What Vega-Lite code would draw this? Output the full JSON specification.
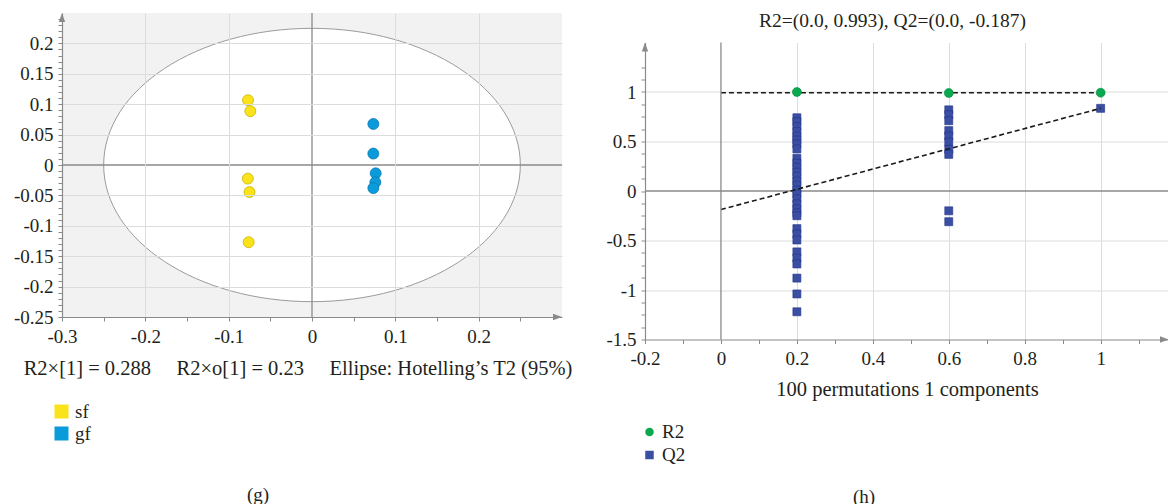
{
  "$schema": "https://vega.github.io/schema/vega-lite/v6.json",
  "background": "white",
  "padding": {"left": 13, "top": 10, "right": 0, "bottom": 0},
  "spacing": 32,
  "center": true,
  "resolve": {
    "scale": {"color": "independent", "shape": "independent", "stroke": "independent"},
    "legend": {"color": "independent", "shape": "independent", "stroke": "independent"}
  },
  "datasets": {
    "scores": [
      {"group": "sf", "t1": -0.0768, "to1": 0.1066},
      {"group": "sf", "t1": -0.0740, "to1": 0.0885},
      {"group": "sf", "t1": -0.0770, "to1": -0.0224},
      {"group": "sf", "t1": -0.0750, "to1": -0.0445},
      {"group": "sf", "t1": -0.0760, "to1": -0.1270},
      {"group": "gf", "t1": 0.0736, "to1": 0.0675},
      {"group": "gf", "t1": 0.0736, "to1": 0.0188},
      {"group": "gf", "t1": 0.0764, "to1": -0.0137},
      {"group": "gf", "t1": 0.0760, "to1": -0.0285},
      {"group": "gf", "t1": 0.0736, "to1": -0.0380}
    ],
    "ellipse": [{"t1": 0, "to1": 0}],
    "single": [{}],
    "perm": [
      {"stat": "Q2", "corr": 0.2, "value": 0.74},
      {"stat": "Q2", "corr": 0.2, "value": 0.70},
      {"stat": "Q2", "corr": 0.2, "value": 0.65},
      {"stat": "Q2", "corr": 0.2, "value": 0.60},
      {"stat": "Q2", "corr": 0.2, "value": 0.555},
      {"stat": "Q2", "corr": 0.2, "value": 0.515},
      {"stat": "Q2", "corr": 0.2, "value": 0.475},
      {"stat": "Q2", "corr": 0.2, "value": 0.425},
      {"stat": "Q2", "corr": 0.2, "value": 0.33},
      {"stat": "Q2", "corr": 0.2, "value": 0.28},
      {"stat": "Q2", "corr": 0.2, "value": 0.24},
      {"stat": "Q2", "corr": 0.2, "value": 0.19},
      {"stat": "Q2", "corr": 0.2, "value": 0.15},
      {"stat": "Q2", "corr": 0.2, "value": 0.10},
      {"stat": "Q2", "corr": 0.2, "value": 0.06},
      {"stat": "Q2", "corr": 0.2, "value": 0.01},
      {"stat": "Q2", "corr": 0.2, "value": -0.03},
      {"stat": "Q2", "corr": 0.2, "value": -0.08},
      {"stat": "Q2", "corr": 0.2, "value": -0.13},
      {"stat": "Q2", "corr": 0.2, "value": -0.18},
      {"stat": "Q2", "corr": 0.2, "value": -0.22},
      {"stat": "Q2", "corr": 0.2, "value": -0.25},
      {"stat": "Q2", "corr": 0.2, "value": -0.38},
      {"stat": "Q2", "corr": 0.2, "value": -0.435},
      {"stat": "Q2", "corr": 0.2, "value": -0.495},
      {"stat": "Q2", "corr": 0.2, "value": -0.615},
      {"stat": "Q2", "corr": 0.2, "value": -0.677},
      {"stat": "Q2", "corr": 0.2, "value": -0.737},
      {"stat": "Q2", "corr": 0.2, "value": -0.88},
      {"stat": "Q2", "corr": 0.2, "value": -1.04},
      {"stat": "Q2", "corr": 0.2, "value": -1.22},
      {"stat": "Q2", "corr": 0.6, "value": 0.82},
      {"stat": "Q2", "corr": 0.6, "value": 0.77},
      {"stat": "Q2", "corr": 0.6, "value": 0.71},
      {"stat": "Q2", "corr": 0.6, "value": 0.61},
      {"stat": "Q2", "corr": 0.6, "value": 0.555},
      {"stat": "Q2", "corr": 0.6, "value": 0.495},
      {"stat": "Q2", "corr": 0.6, "value": 0.42},
      {"stat": "Q2", "corr": 0.6, "value": 0.37},
      {"stat": "Q2", "corr": 0.6, "value": -0.20},
      {"stat": "Q2", "corr": 0.6, "value": -0.31},
      {"stat": "Q2", "corr": 1.0, "value": 0.835},
      {"stat": "R2", "corr": 0.2, "value": 1.0},
      {"stat": "R2", "corr": 0.6, "value": 0.99},
      {"stat": "R2", "corr": 1.0, "value": 0.993}
    ],
    "fits": [
      {"stat": "R2", "corr": 0, "value": 0.993},
      {"stat": "R2", "corr": 1, "value": 0.993},
      {"stat": "Q2", "corr": 0, "value": -0.187},
      {"stat": "Q2", "corr": 1, "value": 0.835}
    ]
  },
  "hconcat": [
    {
      "width": 500,
      "height": 304,
      "view": {"fill": "#f2f2f2", "stroke": null},
      "title": {"text": ["(g)", "\u00a0", "\u00a0"], "lineHeight": 15.5, "orient": "bottom", "anchor": "middle", "frame": "group", "dx": -54, "offset": 42},
      "layer": [
        {
          "data": {"name": "ellipse"},
          "mark": {"type": "point", "shape": "M-1,0C-1,-0.3623,-0.5523,-0.656,0,-0.656C0.5523,-0.656,1,-0.3623,1,0C1,0.3623,0.5523,0.656,0,0.656C-0.5523,0.656,-1,0.3623,-1,0Z", "size": 173611, "filled": true, "fill": "white", "fillOpacity": 1, "opacity": 1, "stroke": "#9b9b9b", "strokeWidth": 1},
          "encoding": {
            "x": {
              "field": "t1", "type": "quantitative",
              "scale": {"domain": [-0.3, 0.3], "nice": false, "zero": false},
              "axis": {
                "zindex": 1,
                "grid": true,
                "tickCount": 100,
                "values": [-0.3, -0.25, -0.2, -0.15, -0.1, -0.05, 0, 0.05, 0.1, 0.15, 0.2, 0.25],
                "labelExpr": "abs(datum.value*10-round(datum.value*10))<0.001 && datum.value<0.25 ? '' + datum.value : ''",
                "gridOpacity": {"condition": {"test": "abs(datum.value*10-round(datum.value*10))<0.001 && datum.value>-0.29 && abs(datum.value)>0.001", "value": 1}, "value": 0},
                "labelPadding": 6,
                "title": "R2×[1] = 0.288\u2003\u2005R2×o[1] = 0.23\u2003\u2005Ellipse: Hotelling’s T2 (95%)",
                "titleFontSize": 20.5,
                "titlePadding": 12,
                "titleX": 235.5
              }
            },
            "y": {
              "field": "to1", "type": "quantitative",
              "scale": {"domain": [-0.25, 0.25], "nice": false, "zero": false},
              "axis": {
                "zindex": 1,
                "grid": true,
                "tickCount": 100,
                "values": [-0.25, -0.24, -0.23, -0.22, -0.21, -0.2, -0.19, -0.18, -0.17, -0.16, -0.15, -0.14, -0.13, -0.12, -0.11, -0.1, -0.09, -0.08, -0.07, -0.06, -0.05, -0.04, -0.03, -0.02, -0.01, 0, 0.01, 0.02, 0.03, 0.04, 0.05, 0.06, 0.07, 0.08, 0.09, 0.1, 0.11, 0.12, 0.13, 0.14, 0.15, 0.16, 0.17, 0.18, 0.19, 0.2, 0.21, 0.22, 0.23, 0.24],
                "labelExpr": "abs(datum.value*20-round(datum.value*20))<0.001 ? '' + datum.value : ''",
                "gridOpacity": {"condition": {"test": "abs(datum.value*20-round(datum.value*20))<0.001 && datum.value>-0.24 && abs(datum.value)>0.001", "value": 1}, "value": 0},
                "title": null
              }
            }
          }
        },
        {
          "data": {"name": "single"},
          "mark": {"type": "rule", "color": "#8a8a8a", "strokeWidth": 1.3},
          "encoding": {"x": {"datum": 0, "type": "quantitative"}}
        },
        {
          "data": {"name": "single"},
          "mark": {"type": "rule", "color": "#8a8a8a", "strokeWidth": 1.3},
          "encoding": {"y": {"datum": 0, "type": "quantitative"}}
        },
        {
          "data": {"name": "single"},
          "mark": {"type": "point", "shape": "M0,0L-0.35,1L0.35,1Z", "size": 324, "filled": true, "color": "#8a8a8a", "opacity": 1, "zindex": 2},
          "encoding": {"x": {"datum": -0.3, "type": "quantitative"}, "y": {"datum": 0.25, "type": "quantitative"}}
        },
        {
          "data": {"name": "single"},
          "mark": {"type": "point", "shape": "M0,0L-1,-0.35L-1,0.35Z", "size": 324, "filled": true, "color": "#8a8a8a", "opacity": 1, "zindex": 2},
          "encoding": {"x": {"datum": 0.3, "type": "quantitative"}, "y": {"datum": -0.25, "type": "quantitative"}}
        },
        {
          "data": {"name": "scores"},
          "mark": {"type": "point", "filled": true, "size": 120, "opacity": 1, "strokeWidth": 0.8, "zindex": 3},
          "encoding": {
            "x": {"field": "t1", "type": "quantitative"},
            "y": {"field": "to1", "type": "quantitative"},
            "color": {
              "field": "group", "type": "nominal",
              "scale": {"domain": ["sf", "gf"], "range": ["#fbe31b", "#0a9bdb"]},
              "legend": {"title": null, "orient": "none", "legendX": -10, "legendY": 389, "symbolType": "square", "symbolSize": 196, "symbolStrokeWidth": 0, "symbolOpacity": 1, "labelOffset": 4, "rowPadding": 2}
            },
            "stroke": {
              "field": "group", "type": "nominal",
              "scale": {"domain": ["sf", "gf"], "range": ["#c9b200", "#0a78b0"]},
              "legend": null
            }
          }
        }
      ]
    },
    {
      "width": 524,
      "height": 297,
      "view": {"stroke": null},
      "title": {"text": "(h)", "orient": "bottom", "anchor": "middle", "frame": "group", "dx": -43, "offset": 22},
      "resolve": {"axis": {"x": "independent"}},
      "layer": [
        {
          "layer": [
            {
              "data": {"name": "single"},
              "mark": {"type": "rule", "color": "#8a8a8a", "strokeWidth": 1.3},
              "encoding": {
                "y": {
                  "datum": 0, "type": "quantitative",
                  "scale": {"domain": [-1.5, 1.5], "nice": false, "zero": false},
                  "axis": {
                    "grid": true,
                    "tickCount": 100,
                    "values": [-1.5, -1.375, -1.25, -1.125, -1, -0.875, -0.75, -0.625, -0.5, -0.375, -0.25, -0.125, 0, 0.125, 0.25, 0.375, 0.5, 0.625, 0.75, 0.875, 1, 1.125, 1.25],
                    "labelExpr": "abs(datum.value*2-round(datum.value*2))<0.001 && datum.value<1.4 ? '' + datum.value : ''",
                    "gridOpacity": {"condition": {"test": "abs(datum.value*2-round(datum.value*2))<0.001 && abs(datum.value)<1.4 && abs(datum.value)>0.001", "value": 1}, "value": 0},
                    "title": null
                  }
                }
              }
            },
            {
              "data": {"name": "single"},
              "mark": {"type": "point", "shape": "M0,0L-0.35,1L0.35,1Z", "size": 324, "filled": true, "color": "#8a8a8a", "opacity": 1},
              "encoding": {
                "x": {
                  "datum": -0.2, "type": "quantitative",
                  "scale": {"domain": [-0.2, 1.18], "nice": false, "zero": false},
                  "axis": {
                    "grid": true,
                    "tickCount": 100,
                    "values": [-0.2, -0.1, 0, 0.1, 0.2, 0.3, 0.4, 0.5, 0.6, 0.7, 0.8, 0.9, 1, 1.1],
                    "labelExpr": "abs(datum.value*5-round(datum.value*5))<0.001 && datum.value<1.05 ? '' + datum.value : ''",
                    "gridOpacity": {"condition": {"test": "abs(datum.value*5-round(datum.value*5))<0.001 && datum.value>-0.15 && abs(datum.value)>0.001", "value": 1}, "value": 0},
                    "labelPadding": 6,
                    "title": "100 permutations 1 components",
                    "titleFontSize": 20.5,
                    "titlePadding": 11
                  }
                },
                "y": {"datum": 1.5, "type": "quantitative"}
              }
            },
            {
              "data": {"name": "single"},
              "mark": {"type": "point", "shape": "M0,0L-1,-0.35L-1,0.35Z", "size": 324, "filled": true, "color": "#8a8a8a", "opacity": 1},
              "encoding": {"x": {"datum": 1.18, "type": "quantitative"}, "y": {"datum": -1.5, "type": "quantitative"}}
            },
            {
              "data": {"name": "perm"},
              "transform": [{"filter": "datum.stat === 'Q2'"}],
              "mark": {"type": "point", "filled": true, "size": 64, "opacity": 1, "stroke": "#22348a", "strokeWidth": 0.6},
              "encoding": {
                "x": {"field": "corr", "type": "quantitative"},
                "y": {"field": "value", "type": "quantitative"},
                "color": {
                  "field": "stat", "type": "nominal",
                  "scale": {"domain": ["R2", "Q2"], "range": ["#0aa84f", "#3a4ea3"]},
                  "legend": {"title": null, "orient": "none", "legendX": -5, "legendY": 380, "symbolSize": 72, "symbolStrokeWidth": 0, "symbolOpacity": 1, "labelOffset": 3, "rowPadding": 3}
                },
                "shape": {
                  "field": "stat", "type": "nominal",
                  "scale": {"domain": ["R2", "Q2"], "range": ["circle", "square"]},
                  "legend": {"title": null, "orient": "none", "legendX": -5, "legendY": 380, "symbolSize": 72, "symbolStrokeWidth": 0, "symbolOpacity": 1, "labelOffset": 3, "rowPadding": 3}
                }
              }
            },
            {
              "data": {"name": "fits"},
              "mark": {"type": "line", "color": "#1a1a1a", "strokeWidth": 1.6, "strokeDash": [5, 3]},
              "encoding": {
                "x": {"field": "corr", "type": "quantitative"},
                "y": {"field": "value", "type": "quantitative"},
                "detail": {"field": "stat", "type": "nominal"}
              }
            },
            {
              "data": {"name": "perm"},
              "transform": [{"filter": "datum.stat === 'R2'"}],
              "mark": {"type": "point", "filled": true, "size": 80, "opacity": 1, "stroke": "#078a3e", "strokeWidth": 0.6},
              "encoding": {
                "x": {"field": "corr", "type": "quantitative"},
                "y": {"field": "value", "type": "quantitative"},
                "color": {"field": "stat", "type": "nominal"},
                "shape": {"field": "stat", "type": "nominal"}
              }
            }
          ]
        },
        {
          "data": {"name": "single"},
          "mark": {"type": "rule", "color": "#8a8a8a", "strokeWidth": 1.3},
          "encoding": {
            "x": {
              "datum": 0, "type": "quantitative",
              "axis": {"orient": "top", "domain": false, "ticks": false, "labels": false, "grid": false, "title": "R2=(0.0, 0.993), Q2=(0.0, -0.187)", "titleFontSize": 19.5, "titlePadding": 12.5, "titleX": 247}
            }
          }
        }
      ]
    }
  ],
  "config": {
    "font": "Liberation Serif",
    "axis": {
      "labelFont": "Liberation Serif", "titleFont": "Liberation Serif",
      "labelFontSize": 19, "titleFontSize": 19, "titleFontWeight": "normal",
      "labelColor": "#231f20", "titleColor": "#231f20",
      "domainColor": "#8a8a8a", "domainWidth": 1.2, "tickColor": "#8a8a8a", "tickSize": 4,
      "gridColor": "#dcdcdc", "labelFlush": false, "labelOverlap": false, "labelPadding": 5
    },
    "legend": {"labelFont": "Liberation Serif", "labelFontSize": 19, "labelColor": "#231f20"},
    "title": {"font": "Liberation Serif", "fontSize": 19, "fontWeight": "normal", "color": "#231f20"}
  }
}
